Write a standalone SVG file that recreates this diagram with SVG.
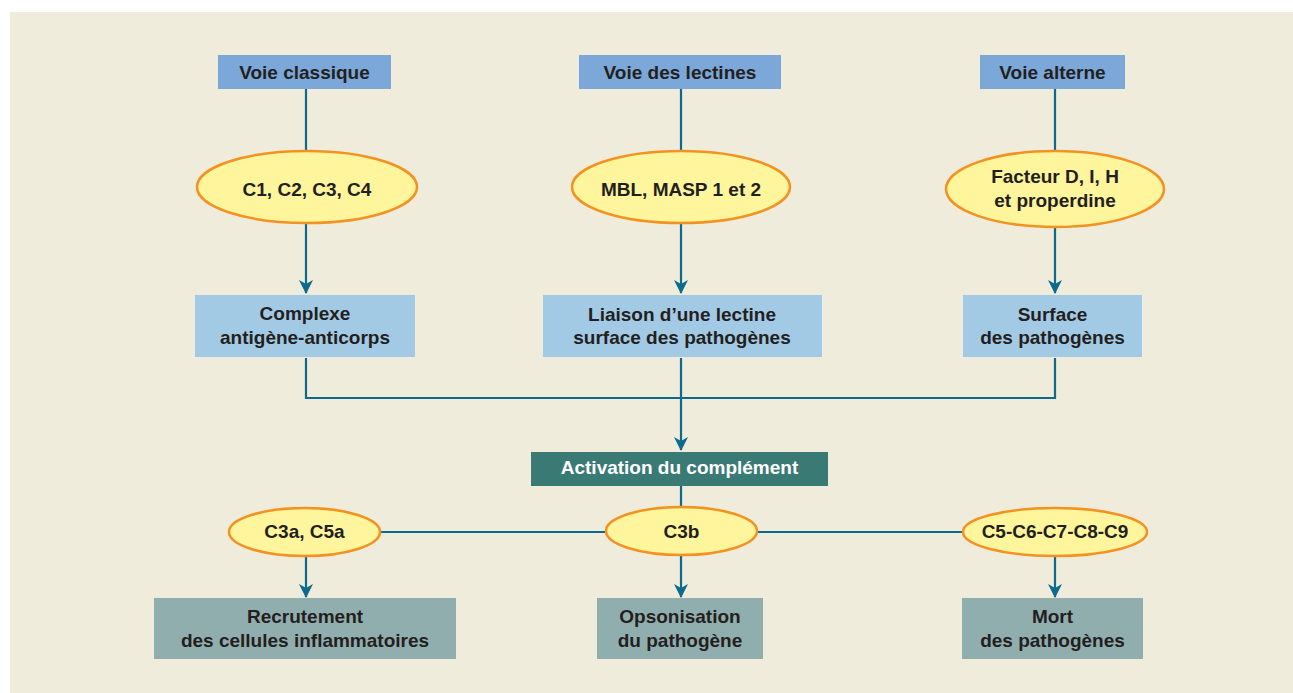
<svg xmlns="http://www.w3.org/2000/svg" width="1293" height="693" viewBox="0 0 1293 693">
<style>
.t{font-family:"Liberation Sans",Arial,sans-serif;font-weight:bold;font-size:19px;fill:#231F20;text-anchor:middle}
.w{fill:#ffffff}
.path{fill:#7BA7D9}
.src{fill:#A3CAE5}
.res{fill:#91AEAE}
.act{fill:#3A7A75}
.ell{fill:#FFF59C;stroke:#F39220;stroke-width:2.5}
.ln{fill:none;stroke:#0B6A8E;stroke-width:2.2}
</style>
<defs>
<marker id="arr" viewBox="0 0 14 14" refX="13" refY="7" markerWidth="14" markerHeight="14" markerUnits="userSpaceOnUse" orient="auto">
<path d="M0,0 L14,7 L0,14 L4,7 Z" fill="#0B6A8E"/>
</marker>
</defs>
<rect x="10" y="12" width="1283" height="681" fill="#F0ECDB"/>
<g id="connectors">
<line class="ln" x1="306" y1="89" x2="306" y2="151"/>
<line class="ln" x1="681" y1="89" x2="681" y2="151"/>
<line class="ln" x1="1055" y1="89" x2="1055" y2="151"/>
<line class="ln" x1="306" y1="223" x2="306" y2="293" marker-end="url(#arr)"/>
<line class="ln" x1="681" y1="223" x2="681" y2="293" marker-end="url(#arr)"/>
<line class="ln" x1="1055" y1="227" x2="1055" y2="293" marker-end="url(#arr)"/>
<polyline class="ln" points="306,358 306,398 1055,398 1055,358"/>
<line class="ln" x1="681" y1="358" x2="681" y2="450" marker-end="url(#arr)"/>
<line class="ln" x1="681" y1="486" x2="681" y2="508"/>
<line class="ln" x1="380" y1="532" x2="606" y2="532"/>
<line class="ln" x1="757" y1="532" x2="963" y2="532"/>
<line class="ln" x1="306" y1="556" x2="306" y2="597" marker-end="url(#arr)"/>
<line class="ln" x1="681" y1="556" x2="681" y2="597" marker-end="url(#arr)"/>
<line class="ln" x1="1055" y1="556" x2="1055" y2="597" marker-end="url(#arr)"/>
</g>
<g id="voie-classique"><rect class="path" x="218" y="55" width="173" height="34"/><text class="t" x="304.5" y="79">Voie classique</text></g>
<g id="voie-lectines"><rect class="path" x="579" y="55" width="202" height="34"/><text class="t" x="680" y="79">Voie des lectines</text></g>
<g id="voie-alterne"><rect class="path" x="980" y="55" width="145" height="34"/><text class="t" x="1052.5" y="79">Voie alterne</text></g>
<g id="c1-c4"><ellipse class="ell" cx="307" cy="187" rx="110" ry="36"/><text class="t" x="307" y="196">C1, C2, C3, C4</text></g>
<g id="mbl"><ellipse class="ell" cx="681" cy="187" rx="109" ry="36"/><text class="t" x="681" y="196">MBL, MASP 1 et 2</text></g>
<g id="facteur"><ellipse class="ell" cx="1055" cy="189" rx="109" ry="38"/><text class="t" x="1055" y="183">Facteur D, I, H</text><text class="t" x="1055" y="207">et properdine</text></g>
<g id="complexe"><rect class="src" x="195" y="295" width="220" height="62"/><text class="t" x="305" y="320">Complexe</text><text class="t" x="305" y="344">antigène-anticorps</text></g>
<g id="liaison"><rect class="src" x="543" y="295" width="279" height="62"/><text class="t" x="682" y="321">Liaison d’une lectine</text><text class="t" x="682" y="344">surface des pathogènes</text></g>
<g id="surface"><rect class="src" x="963" y="295" width="179" height="62"/><text class="t" x="1052.5" y="321">Surface</text><text class="t" x="1052.5" y="344">des pathogènes</text></g>
<g id="activation"><rect class="act" x="531" y="452" width="297" height="34"/><text class="t w" x="679.5" y="474">Activation du complément</text></g>
<g id="c3a"><ellipse class="ell" cx="304.5" cy="532" rx="75.5" ry="24"/><text class="t" x="304.5" y="538">C3a, C5a</text></g>
<g id="c3b"><ellipse class="ell" cx="681.5" cy="531" rx="75.5" ry="24"/><text class="t" x="681.5" y="538">C3b</text></g>
<g id="c5-c9"><ellipse class="ell" cx="1055" cy="532" rx="92" ry="24"/><text class="t" x="1055" y="538">C5-C6-C7-C8-C9</text></g>
<g id="recrutement"><rect class="res" x="154" y="598" width="302" height="61"/><text class="t" x="305" y="623">Recrutement</text><text class="t" x="305" y="647">des cellules inflammatoires</text></g>
<g id="opsonisation"><rect class="res" x="597" y="598" width="166" height="61"/><text class="t" x="680" y="623">Opsonisation</text><text class="t" x="680" y="647">du pathogène</text></g>
<g id="mort"><rect class="res" x="962" y="598" width="181" height="61"/><text class="t" x="1052.5" y="623">Mort</text><text class="t" x="1052.5" y="647">des pathogènes</text></g>
</svg>
